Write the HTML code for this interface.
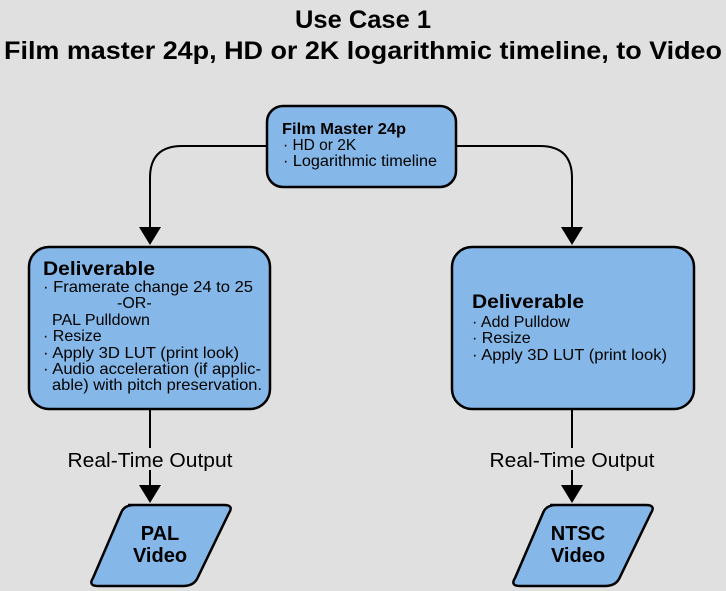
<!DOCTYPE html>
<html><head><style>
body{margin:0;background:#e0e0e0;}
svg{display:block;font-family:"Liberation Sans",sans-serif;}
</style></head><body>
<svg width="726" height="591" viewBox="0 0 726 591">
<rect width="726" height="591" fill="#e0e0e0"/>
<text x="363" y="28" font-size="25" font-weight="bold" text-anchor="middle" textLength="136" lengthAdjust="spacingAndGlyphs">Use Case 1</text>
<text x="363" y="59" font-size="25" font-weight="bold" text-anchor="middle" textLength="718" lengthAdjust="spacingAndGlyphs">Film master 24p, HD or 2K logarithmic timeline, to Video</text>
<g fill="none" stroke="#000" stroke-width="2">
<path d="M267 146 H182 Q150 146 150 178 V228"/>
<path d="M456 146 H540 Q572 146 572 178 V228"/>
<path d="M150 409 V485"/>
<path d="M572 409 V485"/>
</g>
<g fill="#000">
<path d="M139 227 L161 227 L150 245 Z"/>
<path d="M561 227 L583 227 L572 245 Z"/>
<path d="M139 485 L161 485 L150 503 Z"/>
<path d="M561 485 L583 485 L572 503 Z"/>
</g>
<g fill="#85b8e8" stroke="#000" stroke-width="2.5">
<rect x="267" y="106" width="189" height="81" rx="16"/>
<rect x="29" y="247" width="241" height="162" rx="20"/>
<rect x="452" y="247" width="242" height="162" rx="20"/>
<path d="M128 505 H224 Q234 505 229 513 L197 579 Q193 586 183 586 H98 Q88 586 93 578 L121 513 Q124 505 134 505 Z"/>
<path d="M550 505 H646 Q656 505 651 513 L619 579 Q615 586 605 586 H520 Q510 586 515 578 L543 513 Q546 505 556 505 Z"/>
</g>
<rect x="62" y="448" width="176" height="22" fill="#e0e0e0"/>
<rect x="486" y="448" width="176" height="22" fill="#e0e0e0"/>
<text x="150" y="467" font-size="20" text-anchor="middle" textLength="165" lengthAdjust="spacingAndGlyphs">Real-Time Output</text>
<text x="572" y="467" font-size="20" text-anchor="middle" textLength="165" lengthAdjust="spacingAndGlyphs">Real-Time Output</text>
<g font-size="15.5">
<text x="282" y="134" font-weight="bold" textLength="124" lengthAdjust="spacingAndGlyphs">Film Master 24p</text>
<text x="283" y="150">· HD or 2K</text>
<text x="283" y="166" textLength="154" lengthAdjust="spacingAndGlyphs">· Logarithmic timeline</text>
</g>
<g font-size="16">
<text x="43" y="275" font-size="19" font-weight="bold" textLength="112" lengthAdjust="spacingAndGlyphs">Deliverable</text>
<text x="43" y="292" textLength="210" lengthAdjust="spacingAndGlyphs">· Framerate change 24 to 25</text>
<text x="117" y="308">-OR-</text>
<text x="52" y="325">PAL Pulldown</text>
<text x="43" y="341">· Resize</text>
<text x="43" y="358" textLength="196" lengthAdjust="spacingAndGlyphs">· Apply 3D LUT (print look)</text>
<text x="43" y="374" textLength="218" lengthAdjust="spacingAndGlyphs">· Audio acceleration (if applic-</text>
<text x="52" y="390" textLength="210" lengthAdjust="spacingAndGlyphs">able) with pitch preservation.</text>
<text x="472" y="308" font-size="19" font-weight="bold" textLength="112" lengthAdjust="spacingAndGlyphs">Deliverable</text>
<text x="472" y="327">· Add Pulldow</text>
<text x="472" y="343">· Resize</text>
<text x="472" y="360" textLength="195" lengthAdjust="spacingAndGlyphs">· Apply 3D LUT (print look)</text>
</g>
<g font-size="20" font-weight="bold" text-anchor="middle">
<text x="160" y="540">PAL</text>
<text x="160" y="562">Video</text>
<text x="578" y="540">NTSC</text>
<text x="578" y="562">Video</text>
</g>
</svg>
</body></html>
